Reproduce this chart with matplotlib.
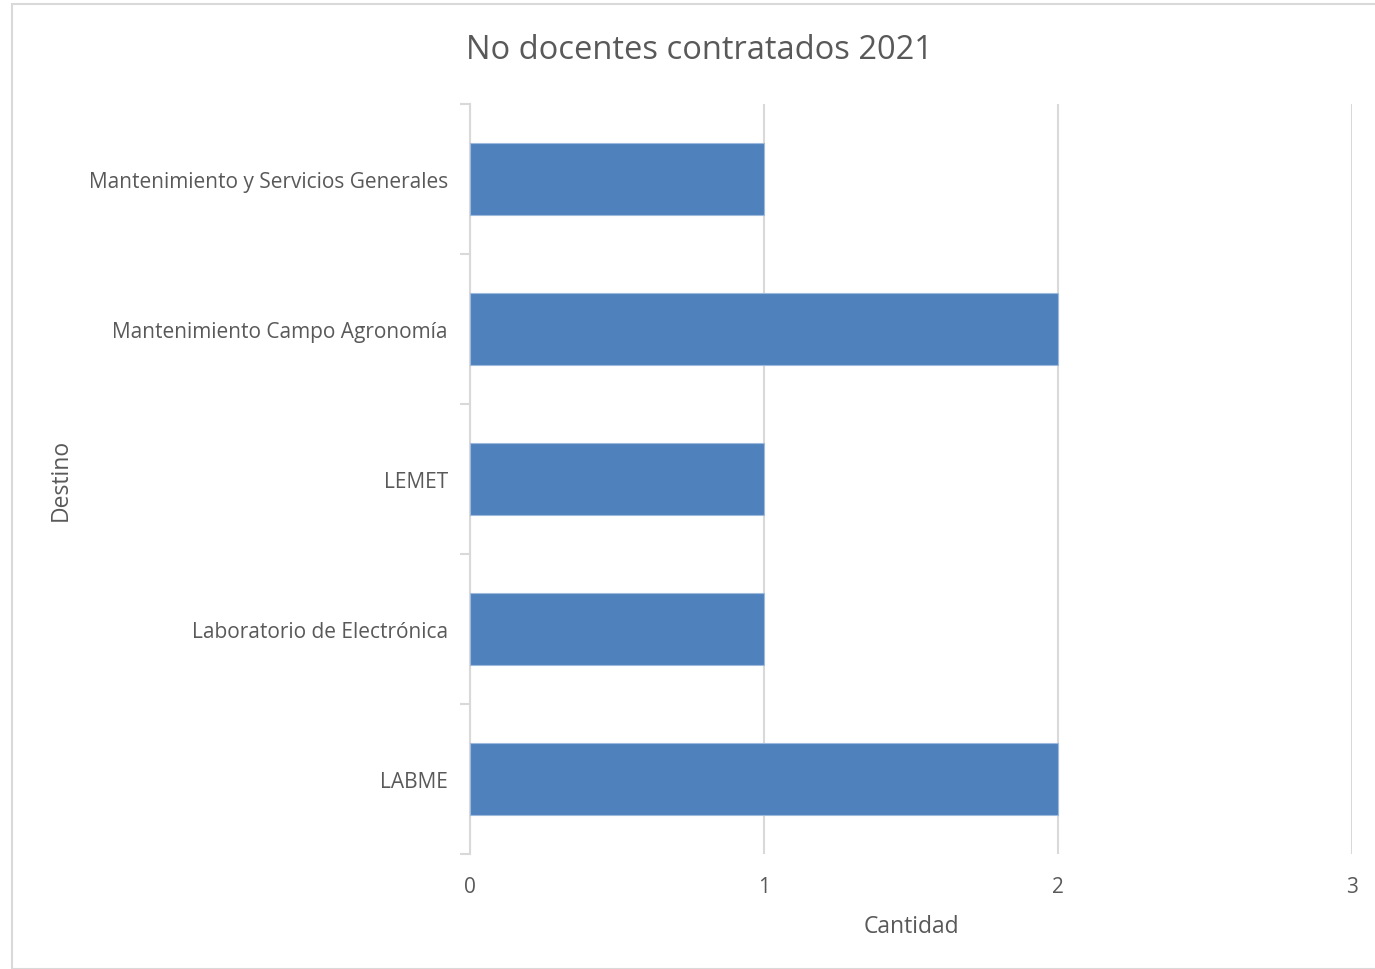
import matplotlib.pyplot as plt
from matplotlib.patches import Rectangle

categories = ['LABME', 'Laboratorio de Electrónica', 'LEMET',
              'Mantenimiento Campo Agronomía',
              'Mantenimiento y Servicios Generales']
values = [2, 1, 1, 2, 1]
x_ticks = [0, 1, 2, 3]

text_color = '#595959'
grid_color = '#D9D9D9'
bar_color = '#4F81BD'

plt.rcParams['font.family'] = ['Open Sans', 'DejaVu Sans']

fig = plt.figure(figsize=(13.75, 9.7), dpi=100)
ax = fig.add_axes([0.3418, 0.1186, 0.6415, 0.7732])

# chart border like the spreadsheet frame
fig.patches.append(Rectangle((0.0085, 0.0), 1.2, 0.995, transform=fig.transFigure,
                             fill=False, edgecolor='#D9D9D9', linewidth=1.5))

y = range(len(categories))
ax.barh(y, values, height=0.476, color=bar_color, edgecolor='#9DB9DC',
        linewidth=0.8, zorder=3)

ax.set_xlim(0, 3)
ax.set_ylim(-0.5, len(categories) - 0.5)
ax.set_xticks(x_ticks)
ax.set_xticklabels([str(t) for t in x_ticks])
ax.set_yticks(list(y))
ax.set_yticklabels(categories)
ax.set_yticks([i - 0.5 for i in range(len(categories) + 1)], minor=True)

ax.grid(axis='x', color=grid_color, linewidth=1.5, zorder=0)
for side in ['top', 'right', 'bottom']:
    ax.spines[side].set_visible(False)
ax.spines['left'].set_color(grid_color)
ax.spines['left'].set_linewidth(1.5)

ax.tick_params(axis='x', length=0, pad=16, labelsize=15, labelcolor=text_color)
ax.tick_params(axis='y', which='major', length=0, pad=16, labelsize=15,
               labelcolor=text_color)
ax.tick_params(axis='y', which='minor', length=7, width=1.5, color=grid_color)

ax.set_xlabel('Cantidad', fontsize=16.5, color=text_color, labelpad=12)
ax.set_ylabel('Destino', fontsize=16.5, color=text_color)
ax.yaxis.set_label_coords(-0.45, 0.5)
fig.text(0.509, 0.948, 'No docentes contratados 2021', ha='center', va='center',
         fontsize=23.5, color=text_color)

fig.savefig('out.png', dpi=100)
